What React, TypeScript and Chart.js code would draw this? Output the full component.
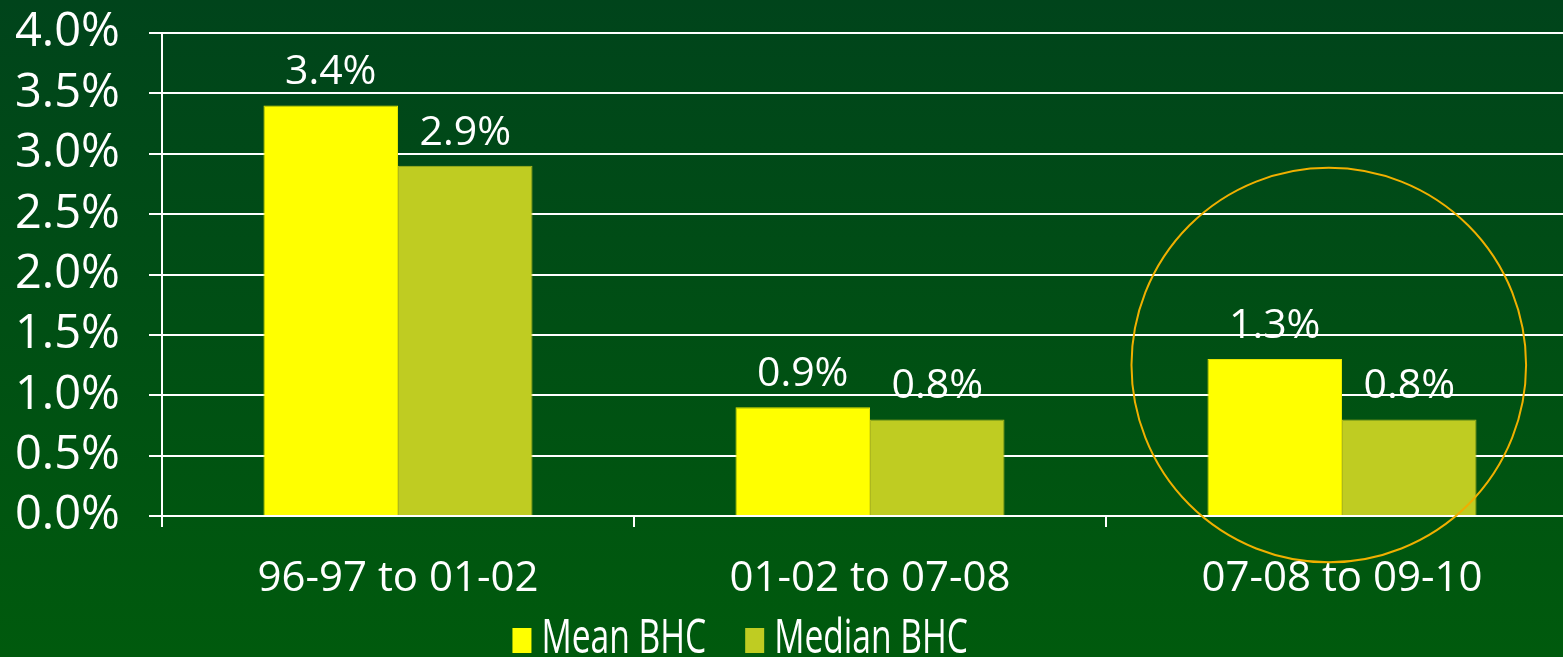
import React, { useEffect, useRef } from "react";
import { Chart, registerables } from "chart.js";

Chart.register(...registerables);

const categories = ["96-97 to 01-02", "01-02 to 07-08", "07-08 to 09-10"];
const meanBHC = [3.4, 0.9, 1.3];
const medianBHC = [2.9, 0.8, 0.8];
const seriesNames = ["Mean BHC", "Median BHC"];
const seriesColors = ["#ffff00", "#bfcc22"];
const yTicksMax = 4;
const yTickStep = 0.5;
// highlighted group (index) and the value level of the circle's centre
const highlightIndex = 2;
const highlightValue = 1.25;

const labelPlugin = {
  id: "barLabels",
  afterDatasetsDraw(chart: any) {
    const ctx = chart.ctx;
    ctx.save();
    ctx.fillStyle = "#ffffff";
    ctx.font = "41px 'Open Sans', sans-serif";
    ctx.textAlign = "center";
    ctx.textBaseline = "alphabetic";
    chart.data.datasets.forEach((ds: any, di: number) => {
      const meta = chart.getDatasetMeta(di);
      meta.data.forEach((bar: any, i: number) => {
        ctx.fillText(ds.data[i].toFixed(1) + "%", bar.x, bar.y - 21);
      });
    });
    ctx.restore();
  },
};

const circlePlugin = {
  id: "highlightCircle",
  afterDraw(chart: any) {
    const x = chart.scales.x;
    const y = chart.scales.y;
    const catW = x.getPixelForValue(1) - x.getPixelForValue(0);
    const cx = x.getPixelForValue(highlightIndex) - catW * 0.028;
    const cy = y.getPixelForValue(highlightValue);
    const r = catW * 0.418;
    const ctx = chart.ctx;
    ctx.save();
    ctx.strokeStyle = "#f0b000";
    ctx.lineWidth = 2;
    ctx.beginPath();
    ctx.arc(cx, cy, r, 0, Math.PI * 2);
    ctx.stroke();
    ctx.restore();
  },
};

const legendPlugin = {
  id: "condensedLegend",
  afterDraw(chart: any) {
    const ctx = chart.ctx;
    const x = chart.scales.x;
    const catW = x.getPixelForValue(1) - x.getPixelForValue(0);
    const squeeze = 0.7;
    const boxW = 19;
    const boxH = 25;
    const gapBoxText = 10;
    const gapItems = 39;
    ctx.save();
    ctx.font = "48px 'Open Sans', sans-serif";
    const widths = seriesNames.map((n) => ctx.measureText(n).width * squeeze);
    const total =
      widths.reduce((a, b) => a + b, 0) + seriesNames.length * (boxW + gapBoxText) + gapItems * (seriesNames.length - 1);
    const center = (chart.chartArea.left + chart.chartArea.right) / 2 - catW * 0.275;
    let cx = center - total / 2;
    const baseline = chart.height - 4;
    seriesNames.forEach((n, i) => {
      ctx.fillStyle = seriesColors[i];
      ctx.fillRect(cx, baseline - boxH, boxW, boxH);
      cx += boxW + gapBoxText;
      ctx.save();
      ctx.translate(cx, baseline);
      ctx.scale(squeeze, 1);
      ctx.fillStyle = "#ffffff";
      ctx.textAlign = "left";
      ctx.textBaseline = "alphabetic";
      ctx.fillText(n, 0, 0);
      ctx.restore();
      cx += widths[i] + gapItems;
    });
    ctx.restore();
  },
};

export default function App() {
  const ref = useRef<HTMLCanvasElement>(null);
  useEffect(() => {
    if (!ref.current) return;
    const chart = new Chart(ref.current, {
      type: "bar",
      data: {
        labels: categories,
        datasets: [
          {
            label: seriesNames[0],
            data: meanBHC,
            backgroundColor: seriesColors[0],
            borderColor: "#e6e600",
            borderWidth: 1,
            categoryPercentage: 0.57,
            barPercentage: 1.0,
          },
          {
            label: seriesNames[1],
            data: medianBHC,
            backgroundColor: seriesColors[1],
            borderColor: "#adb81e",
            borderWidth: 1,
            categoryPercentage: 0.57,
            barPercentage: 1.0,
          },
        ],
      },
      options: {
        animation: false,
        responsive: false,
        maintainAspectRatio: false,
        layout: { padding: { top: 33, right: 2, left: 15, bottom: 0 } },
        plugins: {
          legend: { display: false },
          tooltip: { enabled: false },
        },
        scales: {
          x: {
            grid: {
              offset: true,
              drawOnChartArea: false,
              drawTicks: true,
              tickLength: 11,
              color: "#ffffff",
              lineWidth: 2,
            },
            border: { display: false },
            ticks: {
              color: "#ffffff",
              font: { size: 42, family: "'Open Sans', sans-serif" },
              padding: 27,
              maxRotation: 0,
              autoSkip: false,
            },
            afterFit: (s: any) => {
              s.height = 141;
            },
          },
          y: {
            min: 0,
            max: yTicksMax,
            ticks: {
              stepSize: yTickStep,
              color: "#ffffff",
              font: { size: 47, family: "'Open Sans', sans-serif" },
              padding: 0,
              crossAlign: "far",
              autoSkip: false,
              callback: (v: any) => Number(v).toFixed(1) + "%",
            },
            grid: {
              color: "#ffffff",
              lineWidth: 2,
              tickLength: 13,
            },
            border: { display: true, color: "#ffffff", width: 2 },
            afterFit: (s: any) => {
              s.width = 147;
            },
          },
        },
      },
      plugins: [labelPlugin, circlePlugin, legendPlugin],
    });
    return () => chart.destroy();
  }, []);

  return (
    <div
      style={{
        position: "fixed",
        left: 0,
        top: 0,
        width: "100vw",
        height: "100vh",
        overflow: "hidden",
        background: "linear-gradient(180deg, #00441b 0%, #005a0d 100%)",
      }}
    >
      <canvas ref={ref} width={1580} height={657} style={{ display: "block" }} />
    </div>
  );
}
